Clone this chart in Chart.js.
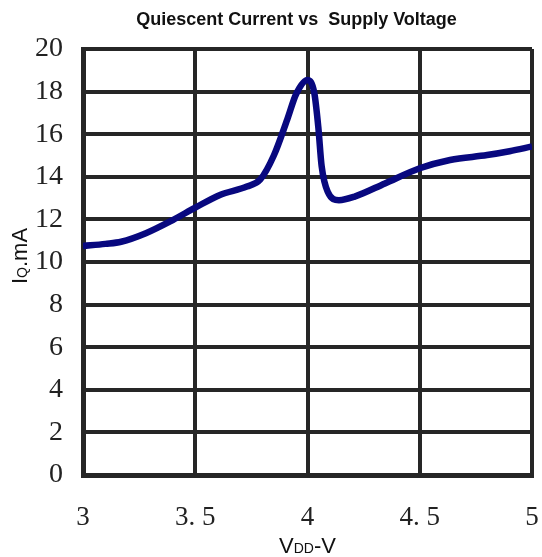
<!DOCTYPE html>
<html>
<head>
<meta charset="utf-8">
<script src="https://cdn.jsdelivr.net/npm/chart.js@4.4.0/dist/chart.umd.min.js"></script>
<style>
  html, body { margin: 0; padding: 0; background: #fff; overflow: hidden; }
  #wrap { width: 542px; height: 557px; }
  canvas { display: block; }
</style>
</head>
<body>
<div id="wrap"><canvas id="chart"></canvas></div>
<script>
const voltage = [3.0, 3.1, 3.17, 3.28, 3.4, 3.5, 3.61, 3.73, 3.79, 3.85, 3.91, 3.95, 4.0, 4.03, 4.048, 4.063, 4.09, 4.14, 4.21, 4.345, 4.5, 4.635, 4.8, 4.9, 5.0];
const current = [10.75, 10.85, 10.95, 11.35, 11.97, 12.55, 13.15, 13.54, 13.88, 15.0, 16.7, 17.9, 18.55, 17.95, 16.35, 14.5, 13.3, 12.9, 13.07, 13.69, 14.4, 14.79, 15.02, 15.2, 15.42];
const xTicks = [3, 3.5, 4, 4.5, 5];
const yTicks = [0, 2, 4, 6, 8, 10, 12, 14, 16, 18, 20];
const chartTitle = 'Quiescent Current vs  Supply Voltage';

const gridColor = '#262626';

// title and axis titles (with subscripts), drawn after the chart
const titles = {
  id: 'titles',
  afterDraw(chart) {
    const { ctx, chartArea } = chart;
    const cx = (chartArea.left + chartArea.right) / 2;
    ctx.save();
    ctx.fillStyle = '#111';
    ctx.textBaseline = 'alphabetic';

    ctx.font = 'bold 18px "Liberation Sans Narrow", "Liberation Sans", Arial, sans-serif';
    ctx.textAlign = 'center';
    ctx.fillText(chartTitle, cx - 11, 25);
    ctx.textAlign = 'left';

    // x title: VDD-V
    const big = '22px "Liberation Sans", Arial, sans-serif';
    const small = '14px "Liberation Sans", Arial, sans-serif';
    const parts = [['V', big], ['DD', small], ['-V', big]];
    let w = 0;
    parts.forEach(p => { ctx.font = p[1]; w += ctx.measureText(p[0]).width; });
    let x = cx - w / 2;
    parts.forEach(p => {
      ctx.font = p[1];
      ctx.fillText(p[0], x, 553);
      x += ctx.measureText(p[0]).width;
    });

    // y title: IQ.mA rotated
    const yparts = [['I', big], ['Q', small], ['.mA', big]];
    let yw = 0;
    yparts.forEach(p => { ctx.font = p[1]; yw += ctx.measureText(p[0]).width; });
    ctx.translate(27, 256);
    ctx.rotate(-Math.PI / 2);
    let px = -yw / 2;
    yparts.forEach(p => {
      ctx.font = p[1];
      ctx.fillText(p[0], px, 0);
      px += ctx.measureText(p[0]).width;
    });
    ctx.restore();
  }
};

new Chart(document.getElementById('chart'), {
  type: 'line',
  data: {
    datasets: [{
      data: voltage.map((v, i) => ({ x: v, y: current[i] })),
      borderColor: '#08087f',
      borderWidth: 6.5,
      pointRadius: 0,
      cubicInterpolationMode: 'monotone',
      fill: false
    }]
  },
  options: {
    responsive: true,
    maintainAspectRatio: false,
    animation: false,
    layout: { padding: { left: 0, right: 10, top: 49, bottom: 0 } },
    scales: {
      x: {
        type: 'linear',
        min: 3,
        max: 5,
        afterBuildTicks: axis => { axis.ticks = xTicks.map(v => ({ value: v })); },
        afterFit: axis => { axis.height = 82; },
        grid: { color: gridColor, lineWidth: 4, drawTicks: false },
        border: { color: gridColor, width: 5 },
        ticks: {
          padding: 2,
          color: '#222',
          font: { family: '"Liberation Serif", "Times New Roman", serif', size: 27, lineHeight: 3.0 },
          callback: v => Number.isInteger(v) ? String(v) : String(v).replace('.', '. ')
        }
      },
      y: {
        min: 0,
        max: 20,
        afterBuildTicks: axis => { axis.ticks = yTicks.map(v => ({ value: v })); },
        afterFit: axis => { axis.width = 83; },
        grid: { color: gridColor, lineWidth: 4, drawTicks: false },
        border: { color: gridColor, width: 5 },
        ticks: {
          padding: 20,
          color: '#222',
          font: { family: '"Liberation Serif", "Times New Roman", serif', size: 28 }
        }
      }
    },
    plugins: {
      legend: { display: false },
      tooltip: { enabled: false },
      title: { display: false }
    }
  },
  plugins: [titles]
});
</script>
</body>
</html>
